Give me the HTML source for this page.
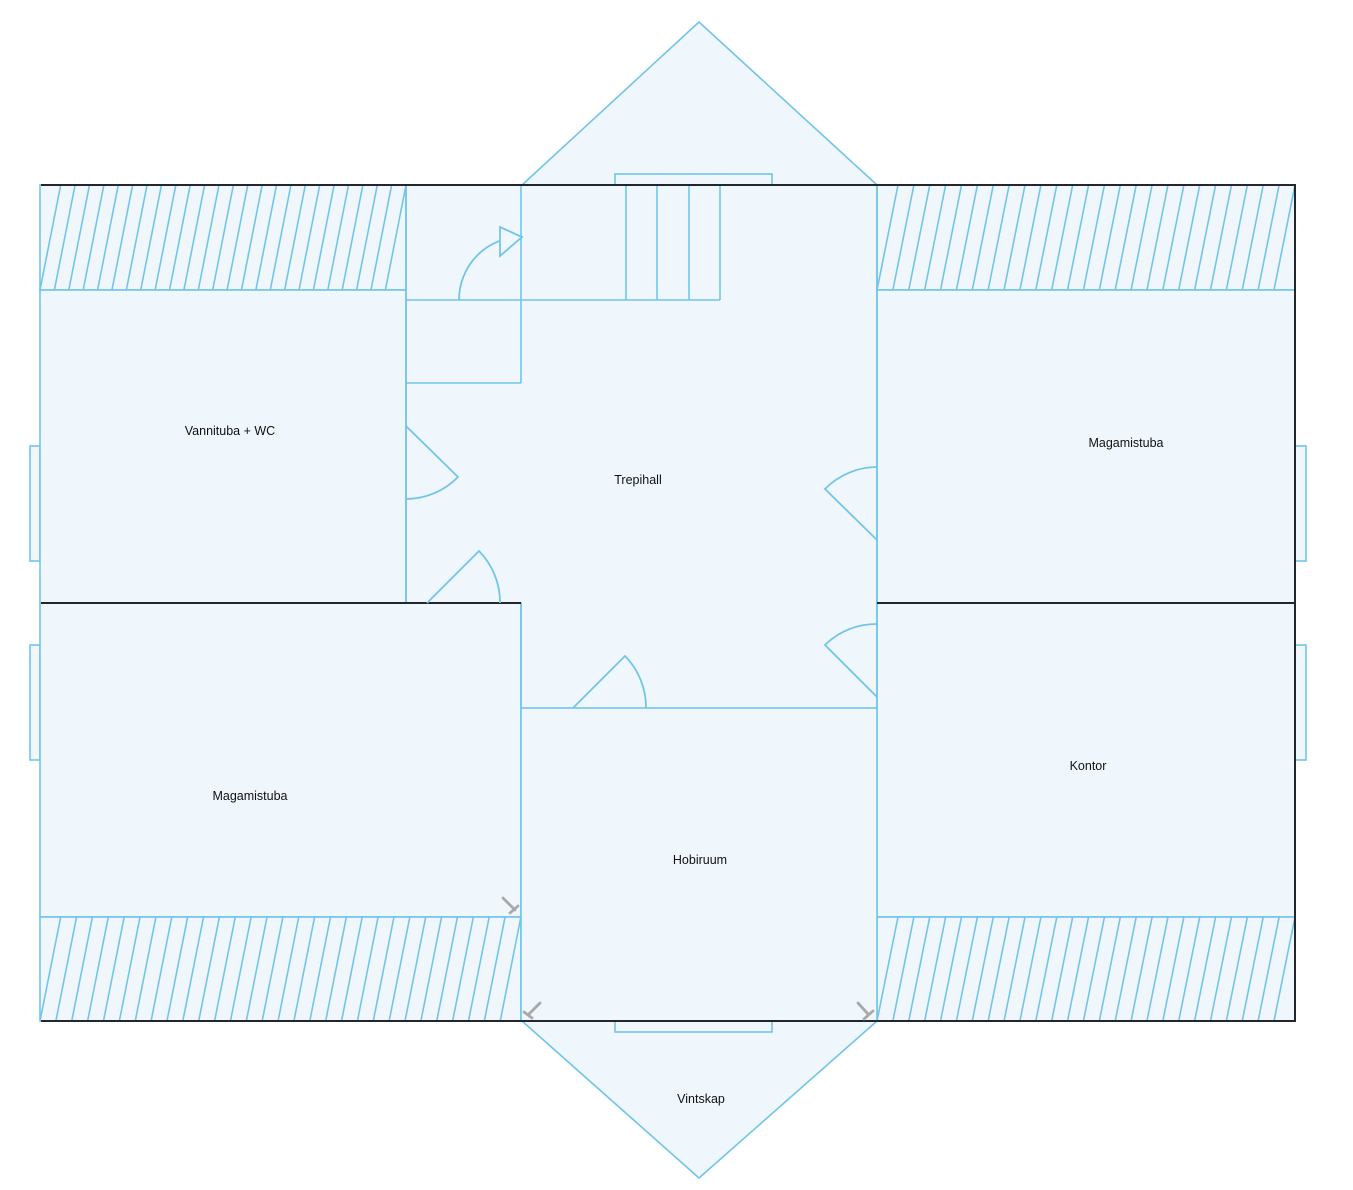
<!DOCTYPE html>
<html><head><meta charset="utf-8"><style>
html,body{margin:0;padding:0;background:#fff;}
svg{display:block;}
text{font-family:"Liberation Sans",sans-serif;font-size:12.5px;fill:#111;}
</style></head><body>
<svg width="1353" height="1190" viewBox="0 0 1353 1190" xmlns="http://www.w3.org/2000/svg">
<g fill="#eff7fd" stroke="#72c4ea" stroke-width="1.6" stroke-linejoin="miter">
  <polygon points="522,185 699,22 877,185"/>
  <polygon points="522,1021 699,1178 877,1021"/>
  <rect x="40" y="185" width="1255" height="836" stroke="none"/>
  <rect x="30" y="446" width="10" height="115"/>
  <rect x="30" y="645" width="10" height="115"/>
  <rect x="1295" y="446" width="11" height="115"/>
  <rect x="1295" y="645" width="11" height="115"/>
  <rect x="615" y="174" width="157" height="11"/>
  <rect x="615" y="1021" width="157" height="11"/>
  <rect x="40" y="185" width="366" height="105"/>
  <rect x="40" y="290" width="366" height="313"/>
  <rect x="877" y="185" width="418" height="105"/>
  <rect x="877" y="290" width="418" height="313"/>
  <rect x="877" y="603" width="418" height="314"/>
  <rect x="877" y="917" width="418" height="104"/>
  <rect x="40" y="603" width="481" height="314"/>
  <rect x="40" y="917" width="481" height="104"/>
  <rect x="521" y="708" width="356" height="313"/>
</g>
<g fill="none" stroke="#72c4ea" stroke-width="1.6">
  <line x1="406" y1="185" x2="406" y2="603"/>
  <line x1="521" y1="185" x2="521" y2="383"/>
  <line x1="406" y1="383" x2="521" y2="383"/>
  <line x1="406" y1="300" x2="720" y2="300"/>
  <line x1="521" y1="603" x2="521" y2="708"/>
  <line x1="877" y1="185" x2="877" y2="708"/>
  <line x1="626" y1="185" x2="626" y2="300"/>
  <line x1="657" y1="185" x2="657" y2="300"/>
  <line x1="689" y1="185" x2="689" y2="300"/>
  <line x1="720" y1="185" x2="720" y2="300"/>
  <!-- TL: 25 lines -->
  <path d="M40 290l20.7-105
  m-6.31 105l20.7-105 m-6.31 105l20.7-105 m-6.31 105l20.7-105 m-6.31 105l20.7-105 m-6.31 105l20.7-105
  m-6.31 105l20.7-105 m-6.31 105l20.7-105 m-6.31 105l20.7-105 m-6.31 105l20.7-105 m-6.31 105l20.7-105
  m-6.31 105l20.7-105 m-6.31 105l20.7-105 m-6.31 105l20.7-105 m-6.31 105l20.7-105 m-6.31 105l20.7-105
  m-6.31 105l20.7-105 m-6.31 105l20.7-105 m-6.31 105l20.7-105 m-6.31 105l20.7-105 m-6.31 105l20.7-105
  m-6.31 105l20.7-105 m-6.31 105l20.7-105 m-6.31 105l20.7-105 m-6.31 105l20.7-105"/>
  <!-- TR: 26 lines -->
  <path d="M877 290l21-105
  m-5.12 105l21-105 m-5.12 105l21-105 m-5.12 105l21-105 m-5.12 105l21-105 m-5.12 105l21-105
  m-5.12 105l21-105 m-5.12 105l21-105 m-5.12 105l21-105 m-5.12 105l21-105 m-5.12 105l21-105
  m-5.12 105l21-105 m-5.12 105l21-105 m-5.12 105l21-105 m-5.12 105l21-105 m-5.12 105l21-105
  m-5.12 105l21-105 m-5.12 105l21-105 m-5.12 105l21-105 m-5.12 105l21-105 m-5.12 105l21-105
  m-5.12 105l21-105 m-5.12 105l21-105 m-5.12 105l21-105 m-5.12 105l21-105 m-5.12 105l21-105"/>
  <!-- BR: 26 lines -->
  <path d="M877 1021l21-104
  m-5.12 104l21-104 m-5.12 104l21-104 m-5.12 104l21-104 m-5.12 104l21-104 m-5.12 104l21-104
  m-5.12 104l21-104 m-5.12 104l21-104 m-5.12 104l21-104 m-5.12 104l21-104 m-5.12 104l21-104
  m-5.12 104l21-104 m-5.12 104l21-104 m-5.12 104l21-104 m-5.12 104l21-104 m-5.12 104l21-104
  m-5.12 104l21-104 m-5.12 104l21-104 m-5.12 104l21-104 m-5.12 104l21-104 m-5.12 104l21-104
  m-5.12 104l21-104 m-5.12 104l21-104 m-5.12 104l21-104 m-5.12 104l21-104 m-5.12 104l21-104"/>
  <!-- BL: 30 lines -->
  <path d="M40 1021l20.7-104
  m-4.83 104l20.7-104 m-4.83 104l20.7-104 m-4.83 104l20.7-104 m-4.83 104l20.7-104 m-4.83 104l20.7-104
  m-4.83 104l20.7-104 m-4.83 104l20.7-104 m-4.83 104l20.7-104 m-4.83 104l20.7-104 m-4.83 104l20.7-104
  m-4.83 104l20.7-104 m-4.83 104l20.7-104 m-4.83 104l20.7-104 m-4.83 104l20.7-104 m-4.83 104l20.7-104
  m-4.83 104l20.7-104 m-4.83 104l20.7-104 m-4.83 104l20.7-104 m-4.83 104l20.7-104 m-4.83 104l20.7-104
  m-4.83 104l20.7-104 m-4.83 104l20.7-104 m-4.83 104l20.7-104 m-4.83 104l20.7-104 m-4.83 104l20.7-104
  m-4.83 104l20.7-104 m-4.83 104l20.7-104 m-4.83 104l20.7-104 m-4.83 104l20.7-104"/>
</g>
<g stroke="#23272b" stroke-width="2" fill="none">
  <line x1="41" y1="185" x2="1296" y2="185"/>
  <line x1="41" y1="1021" x2="1296" y2="1021"/>
  <line x1="1295" y1="185" x2="1295" y2="1021"/>
  <line x1="41" y1="603" x2="521" y2="603"/>
  <line x1="877" y1="603" x2="1295" y2="603"/>
</g>
<g fill="none" stroke="#72c4ea" stroke-width="1.8">
  <path d="M459 300 A62 63 0 0 1 521 237"/>
  <polygon points="500,227 500,256 522,237" fill="#eff7fd"/>
  <path d="M406 426 L458 477 A73 73 0 0 1 406 499"/>
  <path d="M427 603 L479 551 A73 73 0 0 1 500 603"/>
  <path d="M573 708 L625 656 A73 73 0 0 1 646 708"/>
  <path d="M877 540 L825 489 A73 73 0 0 1 877 467"/>
  <path d="M877 697 L825 645 A73 73 0 0 1 877 624"/>
</g>
<g stroke="#a9a9a9" stroke-width="2.8" stroke-linecap="round" fill="none">
  <line x1="503" y1="898" x2="515" y2="910"/>
  <line x1="510" y1="913" x2="518" y2="906"/>
  <line x1="540" y1="1003" x2="529" y2="1014"/>
  <line x1="524" y1="1012" x2="532" y2="1018"/>
  <line x1="858" y1="1003" x2="868" y2="1014"/>
  <line x1="864" y1="1019" x2="873" y2="1011"/>
</g>
<g text-anchor="middle" dominant-baseline="central">
  <text x="230" y="431">Vannituba + WC</text>
  <text x="638" y="480">Trepihall</text>
  <text x="1126" y="443">Magamistuba</text>
  <text x="250" y="796">Magamistuba</text>
  <text x="1088" y="766">Kontor</text>
  <text x="700" y="860">Hobiruum</text>
  <text x="701" y="1099">Vintskap</text>
</g>
</svg>
</body></html>
